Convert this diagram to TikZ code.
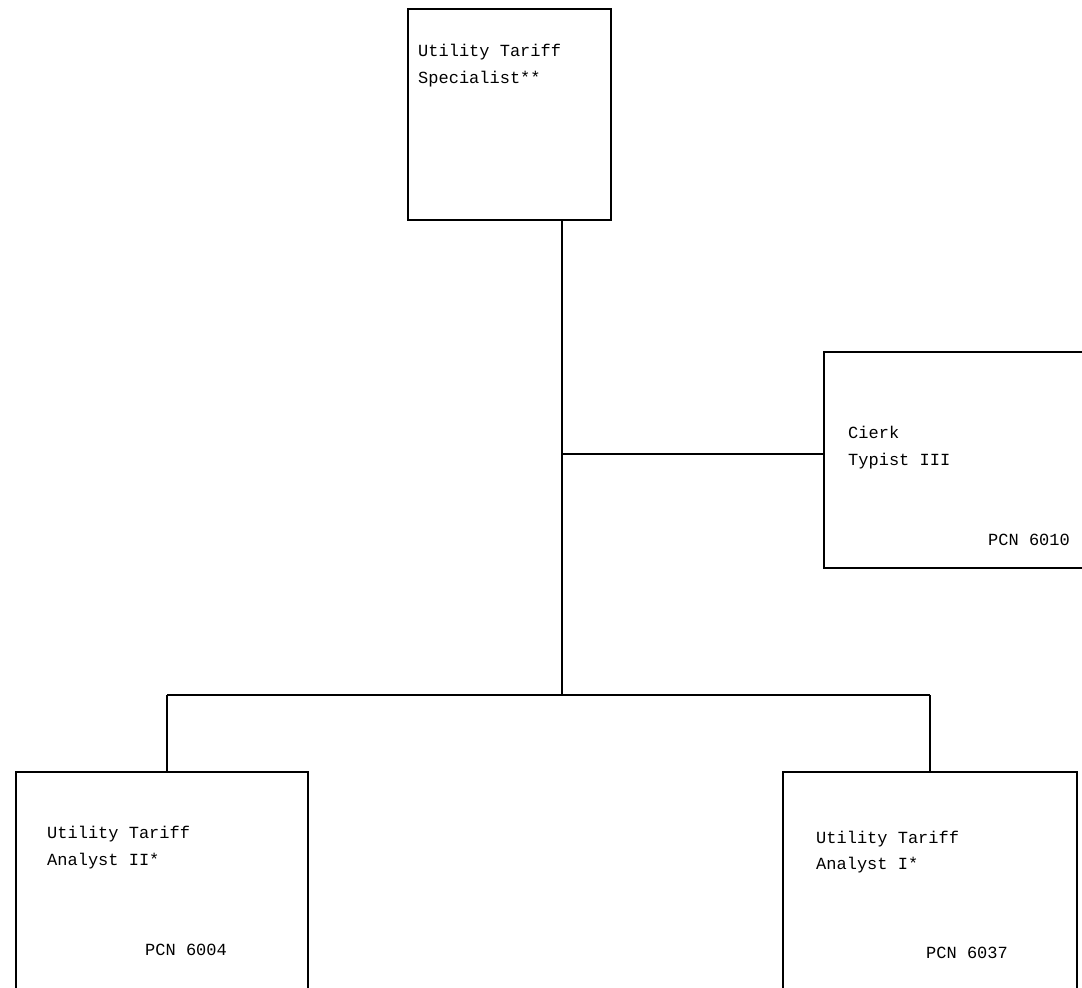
\documentclass[tikz,border=0pt]{standalone}
\usepackage{fontspec}
\setmonofont{Liberation Mono}
\begin{document}
\begin{tikzpicture}[x=1pt,y=-1pt,
  box/.style={draw, line width=2.2pt, inner sep=0pt, anchor=north west},
  lbl/.style={font=\ttfamily\fontsize{17}{27}\selectfont, anchor=base west, inner sep=0pt},
  conn/.style={line width=2.2pt}]
\useasboundingbox (0,0) rectangle (1082,988);
\clip (0,0) rectangle (1082,988);
% boxes
\node[box, minimum width=203pt, minimum height=211pt] (top) at (407,8) {};
\node[box, minimum width=270pt, minimum height=216pt] (clerk) at (823,351) {};
\node[box, minimum width=292pt, minimum height=240pt] (left) at (15,771) {};
\node[box, minimum width=294pt, minimum height=240pt] (right) at (782,771) {};
% texts
\node[lbl] (t1) at (418,56) {Utility Tariff};
\node[lbl] (t2) at (418,83) {Specialist**};
\node[lbl] (c1) at (848,438) {Cierk};
\node[lbl] (c2) at (848,465) {Typist III};
\node[lbl] (c3) at (988,545) {PCN 6010};
\node[lbl] (l1) at (47,838) {Utility Tariff};
\node[lbl] (l2) at (47,865) {Analyst II*};
\node[lbl] (l3) at (145,955) {PCN 6004};
\node[lbl] (r1) at (816,843) {Utility Tariff};
\node[lbl] (r2) at (816,869) {Analyst I*};
\node[lbl] (r3) at (926,958) {PCN 6037};
% connectors
\coordinate (j) at (562,695);
\coordinate (cj) at (562,454);
\coordinate (bl) at (167,695);
\coordinate (br) at (930,695);
\draw[conn] (top.south -| j) -- (j);
\draw[conn] (cj) -- (cj -| clerk.west);
\draw[conn] (bl) -- (br);
\draw[conn] (bl) -- (bl |- left.north);
\draw[conn] (br) -- (br |- right.north);
\end{tikzpicture}
\end{document}
